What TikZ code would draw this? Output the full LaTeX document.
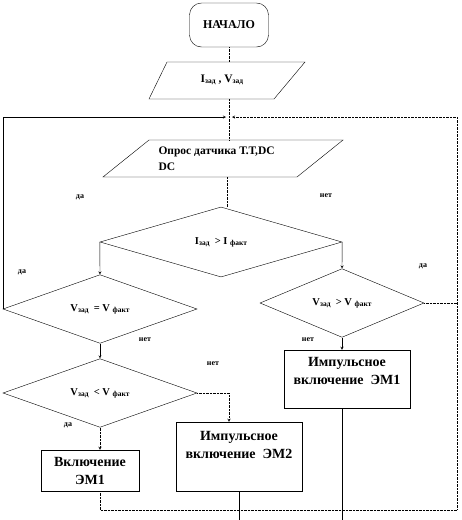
\documentclass[tikz,border=0pt]{standalone}
\usepackage{fontspec}
\setmainfont{Liberation Serif}
\usetikzlibrary{shapes.geometric}

\newcommand{\idx}[1]{\raisebox{-1pt}{\fontsize{7.5}{8}\selectfont #1}}

\tikzset{
  decide/.style={diamond, draw, inner sep=0pt, font=\bfseries\fontsize{10.5}{12}\selectfont},
  act/.style={rectangle, draw, inner sep=0pt, align=center, font=\bfseries\fontsize{14}{18}\selectfont},
  jump/.style={densely dotted},
  go/.style={->, >=stealth},
  ans/.style={font=\bfseries\fontsize{8}{9}\selectfont},
}

\begin{document}
\begin{tikzpicture}[x=1pt, y=-1pt]
\useasboundingbox (0,0) rectangle (462,520);

% === Start and input ===
\node[draw, rounded corners=12pt, minimum width=79pt, minimum height=44pt,
  font=\bfseries\fontsize{12}{14}\selectfont] (start) at (229,25) {НАЧАЛО};

\draw (149,99) -- (167,62) -- (305,62) -- (274,99) -- cycle;
\node[font=\bfseries\fontsize{11.5}{13}\selectfont] (input) at (222,80) {I\idx{зад} , V\idx{зад}};
\coordinate (intop) at (229,62);
\coordinate (inbot) at (229,99);

% === Survey ===
\draw (103,177) -- (149,140) -- (343,140) -- (297,177) -- cycle;
\node[anchor=west, align=left, font=\bfseries\fontsize{11.5}{16}\selectfont]
  (survey) at (155,159) {Опрос датчика Т.Т,DC\\DC};
\coordinate (svtop) at (229,140);
\coordinate (svbot) at (227,177);
\coordinate (join) at (229,117);
\coordinate (corner) at (457,510);

% === Decisions ===
\node[decide, minimum width=242pt, minimum height=70pt] (cmpI) at (221,242)
  {I\idx{зад}\ \ > I \idx{факт}};
\node[decide, minimum width=194pt, minimum height=50pt] (eqV) at (100,309)
  {V\idx{зад}\ \ = V \idx{факт}};
\node[decide, minimum width=164pt, minimum height=48pt] (gtV) at (342,303)
  {V\idx{зад}\ \ > V \idx{факт}};
\node[decide, minimum width=194pt, minimum height=50pt] (ltV) at (100,393)
  {V\idx{зад}\ \ < V \idx{факт}};

% === Actions ===
\node[act, minimum width=126pt, minimum height=58pt, text depth=16pt] (pulse1) at (347,379)
  {Импульсное\\включение\ \ ЭМ1};
\node[act, minimum width=126pt, minimum height=69pt, text depth=24pt] (pulse2) at (239,456.5)
  {Импульсное\\включение\ \ ЭМ2};
\node[act, minimum width=98pt, minimum height=41pt] (on1) at (90,470.5)
  {Включение\\ЭМ1};
\coordinate (out1) at (342,520);
\coordinate (out2) at (239,520);

% === Connectors ===
\draw[jump] (start.south) -- (intop);
\draw[jump] (inbot) -- (svtop);
\draw[jump] (svbot) -- (svbot |- cmpI.north);
\draw[go] (cmpI.west) -- (eqV.north);
\draw[go] (cmpI.east) -- (gtV.north);
\draw[go] (gtV.south) -- (gtV.south |- pulse1.north);
\draw[go] (eqV.south) -- (ltV.north);
\draw[jump, go] (ltV.east) -| ([xshift=-10pt]pulse2.north);
\draw[jump, go] (ltV.south) -- (ltV.south |- on1.north);
\draw (out1 |- pulse1.south) -- (out1);
\draw (pulse2.south) -- (out2);

% loops back
\draw[go, shorten >=3pt] (eqV.west) |- (join);
\draw[jump, go, shorten >=3pt] (ltV.south |- on1.south) |- (corner) |- (join);
\draw[jump] (gtV.east) -- (gtV.east -| corner);

% === Answers ===
\node[ans] (a1) at (80,197) {да};
\node[ans] (a2) at (326,196) {нет};
\node[ans] (a3) at (22,272) {да};
\node[ans] (a4) at (423,266) {да};
\node[ans] (a5) at (145,340) {нет};
\node[ans] (a6) at (213,364) {нет};
\node[ans] (a7) at (308,340) {нет};
\node[ans] (a8) at (68,425) {да};

\end{tikzpicture}
\end{document}
